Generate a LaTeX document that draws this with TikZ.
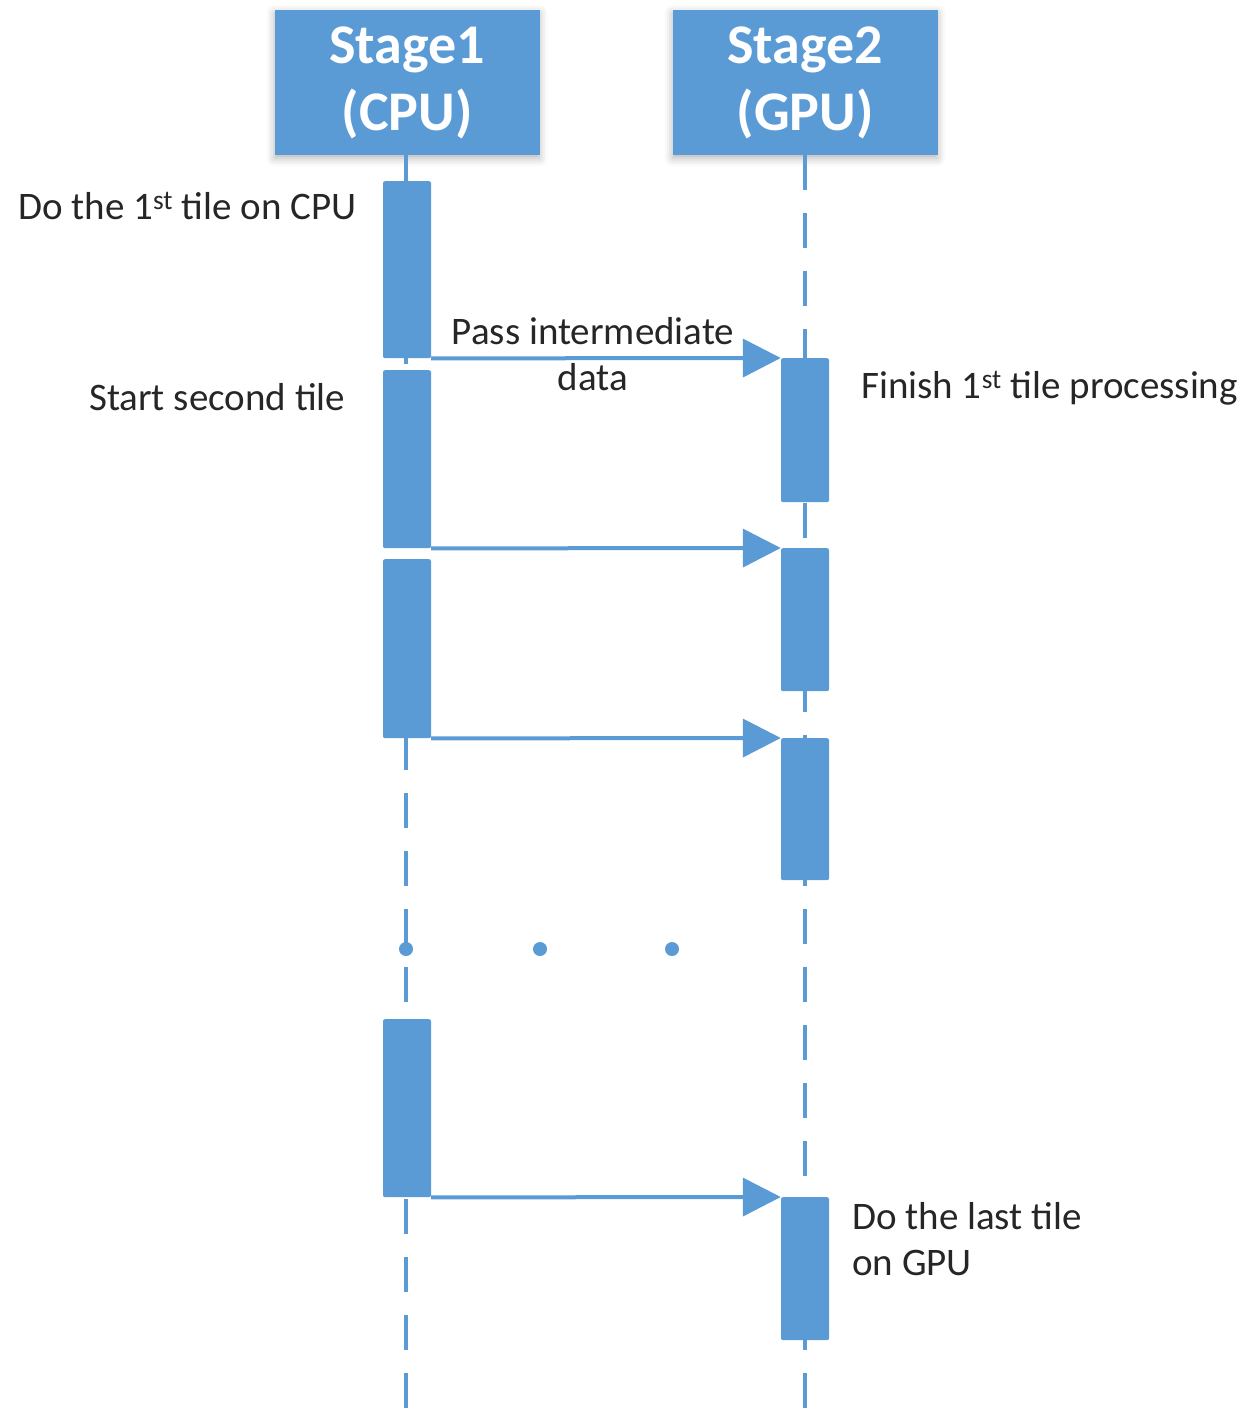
\documentclass[tikz,border=0pt]{standalone}
\usepackage{fontspec}
\setmainfont{Carlito}
\usetikzlibrary{arrows.meta,shadows.blur}
\definecolor{officeblue}{HTML}{5B9BD5}
\definecolor{labelgray}{HTML}{262626}
\tikzset{
  header/.style={fill=officeblue, minimum width=265pt, minimum height=145pt,
    text=white, font=\fontsize{56}{67}\selectfont\bfseries, align=center,
    inner sep=0pt, anchor=north,
    blur shadow={shadow xshift=0pt, shadow yshift=-3pt,
      shadow blur radius=8pt, shadow opacity=30}},
  lifeline/.style={officeblue, line width=4pt, dash pattern=on 35pt off 23pt},
  activation/.style={fill=officeblue, rounded corners=2pt, minimum width=48pt,
    inner sep=0pt, anchor=north},
  msg/.style={officeblue, line width=4pt, -{Triangle[length=38pt,width=38pt]}},
  label/.style={text=labelgray, font=\fontsize{39}{46}\selectfont, inner sep=0pt},
  dotmark/.style={circle, fill=officeblue, minimum size=14pt, inner sep=0pt}
}
\begin{document}
\begin{tikzpicture}[x=1pt, y=-1pt]
  \useasboundingbox (0,0) rectangle (1244,1421);

  % participants
  \node[header] (cpu) at (407,10) {Stage1\\(CPU)};
  \node[header] (gpu) at (805,10) {Stage2\\(GPU)};

  % lifelines
  \coordinate (cpuend) at (406,1421);
  \coordinate (gpuend) at (805,1421);
  \draw[lifeline] (cpu.south -| cpuend) -- (cpuend);
  \draw[lifeline] (gpu.south -| gpuend) -- (gpuend);

  % activation bars on the CPU
  \node[activation, minimum height=177pt] (c1) at (407,181) {};
  \node[activation, minimum height=178pt] (c2) at (407,370) {};
  \node[activation, minimum height=179pt] (c3) at (407,559) {};
  \node[activation, minimum height=178pt] (c4) at (407,1019) {};

  % activation bars on the GPU
  \node[activation, minimum height=144pt] (g1) at (805,358) {};
  \node[activation, minimum height=143pt] (g2) at (805,548) {};
  \node[activation, minimum height=142pt] (g3) at (805,738) {};
  \node[activation, minimum height=143pt] (g4) at (805,1197) {};

  % messages
  \draw[msg] (c1.south east) -- (g1.north west);
  \draw[msg] (c2.south east) -- (g2.north west);
  \draw[msg] (c3.south east) -- (g3.north west);
  \draw[msg] (c4.south east) -- (g4.north west);

  % ellipsis
  \node[dotmark] (d1) at (406,949) {};
  \node[dotmark] (d2) at (540,949) {};
  \node[dotmark] (d3) at (672,949) {};

  % labels (multi-line nodes sit on the baseline of their last line)
  \node[label, anchor=base west] (l1) at (18,219) {Do the 1\textsuperscript{st} tile on CPU};
  \node[label, anchor=base west] (l2) at (89,410) {Start second tile};
  \node[label, anchor=base, align=center] (l3) at (593,390) {Pass intermediate\\data};
  \node[label, anchor=base west] (l4) at (861,398) {Finish 1\textsuperscript{st} tile processing};
  \node[label, anchor=base west, align=left] (l5) at (852,1275) {Do the last tile\\on GPU};
\end{tikzpicture}
\end{document}
